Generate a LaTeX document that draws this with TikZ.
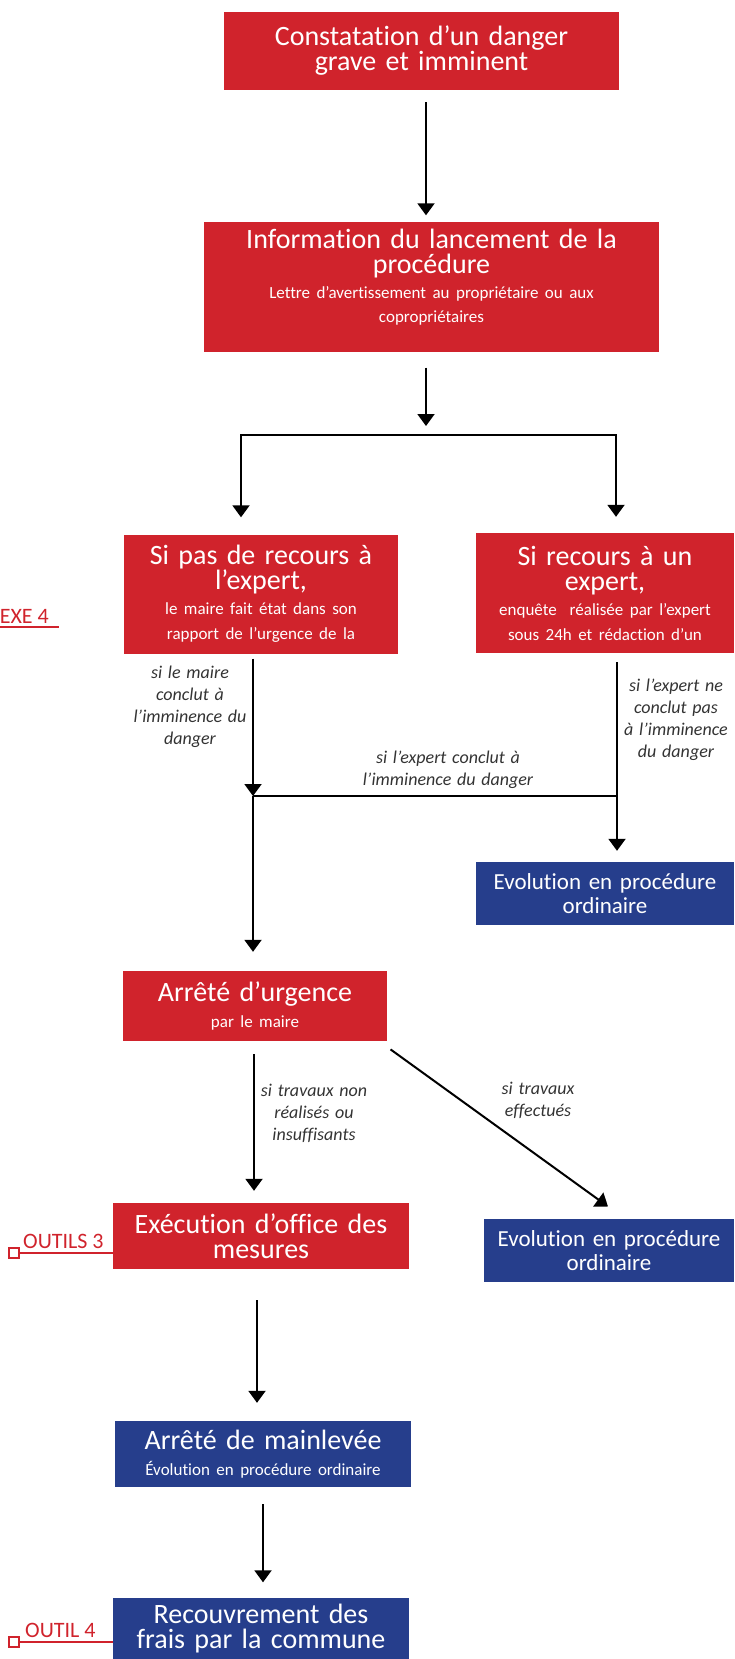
\documentclass[tikz,border=0pt]{standalone}
\usepackage{fontspec}
\setmainfont{Carlito}[Ligatures=NoCommon]
\usetikzlibrary{arrows.meta}

\definecolor{boxred}{RGB}{208,35,44}
\definecolor{boxblue}{RGB}{38,62,140}
\newcommand{\ttlfont}{\fontsize{28}{25}\selectfont\spaceskip=0.38em\relax\lineskiplimit=-20pt\relax}
\newcommand{\midfont}{\fontsize{23}{24}\selectfont\spaceskip=0.38em\relax\lineskiplimit=-20pt\relax}
\newcommand{\subfont}{\fontsize{17}{24}\selectfont\spaceskip=0.38em\relax\lineskiplimit=-20pt\relax}
\newcommand{\condfont}{\fontsize{18}{22}\selectfont\itshape\spaceskip=0.32em\relax\lineskiplimit=-20pt\relax}

\begin{document}
\begin{tikzpicture}[x=1pt,y=-1pt]
\tikzset{
  box/.style={rectangle, text=white, align=center, inner xsep=3pt, inner ysep=0pt, font=\ttlfont},
  redbox/.style={box, fill=boxred},
  bluebox/.style={box, fill=boxblue},
  arr/.style={line width=2pt, -{Triangle[width=17pt,length=12pt]}},
  link/.style={line width=2pt},
  cond/.style={align=center, font=\condfont, text=black!80, inner sep=0pt},
  tag/.style={text=boxred, font=\fontsize{22}{22}\selectfont, inner sep=0pt},
  tagbox/.style={draw=boxred, line width=2pt, minimum size=10pt, inner sep=0pt},
  tagline/.style={draw=boxred, line width=2pt}
}
\useasboundingbox (0,0) rectangle (734,1659);

% boxes
\node[redbox, minimum height=78pt, text width=389pt] (b1) at (421.5,51) {Constatation d’un danger\\grave et imminent};
\node[redbox, minimum height=130pt, text width=449pt] (b2) at (431.5,286.5) {Information du lancement de la\\procédure\\[1pt]\subfont Lettre d’avertissement au propriétaire ou aux\\copropriétaires\\[-4pt]\mbox{}};
\node[redbox, minimum height=119pt, text width=268pt] (b3) at (261,594) {Si pas de recours à\\l’expert,\\[1pt]\subfont le maire fait état dans son\\rapport de l’urgence de la};
\node[redbox, minimum height=120pt, text width=252pt] (b4) at (605,593) {Si recours à un\\expert,\\[1pt]\subfont enquête~ réalisée par l’expert\\sous 24h et rédaction d’un};
\node[bluebox, font=\midfont, minimum height=63pt, text width=252pt] (b5) at (605,893.5) {Evolution en procédure\\ordinaire};
\node[redbox, minimum height=70pt, text width=258pt] (b6) at (255,1006) {Arrêté d’urgence\\[1pt]\subfont par le maire};
\node[redbox, minimum height=66pt, text width=290pt] (b7) at (261,1236) {Exécution d’office des\\mesures};
\node[bluebox, font=\midfont, minimum height=63pt, text width=244pt] (b8) at (609,1250.5) {Evolution en procédure\\ordinaire};
\node[bluebox, minimum height=66pt, text width=290pt] (b9) at (263,1454) {Arrêté de mainlevée\\[1pt]\subfont Évolution en procédure ordinaire};
\node[bluebox, minimum height=62pt, text width=290pt] (b10) at (261,1628.5) {Recouvrement des\\frais par la commune};

% conditions
\node[cond] (c1) at (190,707) {si le maire\\conclut à\\l’imminence du\\danger};
\node[cond] (c2) at (676,720) {si l’expert ne\\conclut pas\\à l’imminence\\du danger};
\node[cond] (c3) at (448,770) {si l’expert conclut à\\l’imminence du danger};
\node[cond] (c4) at (314,1113) {si travaux non\\réalisés ou\\insuffisants};
\node[cond] (c5) at (538,1100) {si travaux\\effectués};

% connectors
\coordinate (fork) at (426,435);
\coordinate (merge) at (253,796);
\coordinate (rjoin) at (617,796);
\draw[arr, shorten <=12pt, shorten >=6pt] ([xshift=4.5pt]b1.south) -- ([xshift=-5.5pt]b2.north);
\draw[arr, shorten <=16pt, shorten >=9pt] (b2.south -| fork) -- (fork);
\draw[arr, shorten >=17pt] (fork) -| ([xshift=-20pt]b3.north);
\draw[arr, shorten >=16pt] (fork) -| ([xshift=11pt]b4.north);
\draw[arr, shorten <=5pt] ([xshift=-8pt]b3.south) -- (merge);
\draw[arr, shorten <=9pt, shorten >=11pt] ([xshift=12pt]b4.south) -- ([xshift=12pt]b5.north);
\draw[link] (rjoin) -- (merge);
\draw[arr, shorten >=19pt] (merge) -- (merge |- b6.north);
\draw[arr, shorten <=13pt, shorten >=12pt] ([xshift=-1pt]b6.south) -- ([xshift=-7pt]b7.north);
\draw[arr, shorten <=14pt, shorten >=21pt] ([xshift=-8pt]b6.south east) -- ([xshift=16pt]b8.north);
\draw[arr, shorten <=31pt, shorten >=18pt] ([xshift=-4pt]b7.south) -- ([xshift=-6pt]b9.north);
\draw[arr, shorten <=17pt, shorten >=15pt] (b9.south) -- ([xshift=2pt]b10.north);

% side tags
\node[tag, anchor=base east] (annexe) at (49,623) {EXE 4};
\coordinate (ul) at (0,627);
\draw[tagline] (ul) -- ++(59,0);
\node[tagbox] (sq3) at (14,1253) {};
\node[tag, anchor=base west] (outils3) at (23,1248) {OUTILS 3};
\draw[tagline] (sq3.east) -- (sq3.east -| b7.west);
\node[tagbox] (sq4) at (14,1642) {};
\node[tag, anchor=base west] (outil4) at (25,1637) {OUTIL 4};
\draw[tagline] (sq4.east) -- (sq4.east -| b10.west);
\end{tikzpicture}
\end{document}
